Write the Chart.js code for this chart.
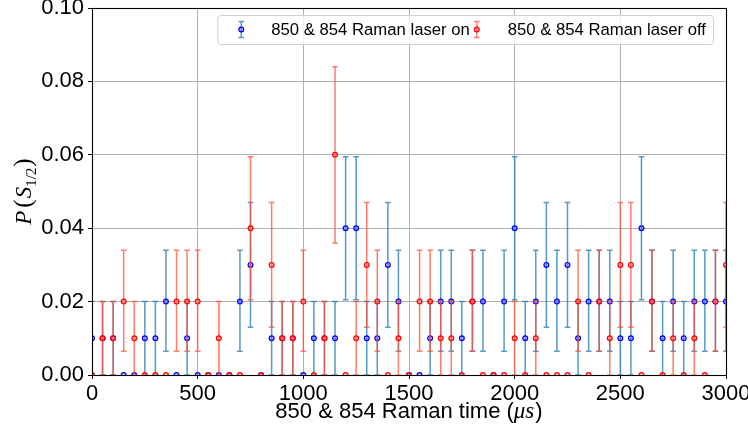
<!DOCTYPE html>
<html>
<head>
<meta charset="utf-8">
<title>Raman laser on / off</title>
<script src="https://cdn.jsdelivr.net/npm/chart.js@4.4.0/dist/chart.umd.min.js"></script>
<style>
    html, body { margin: 0; padding: 0; background: #fff; }
    #wrap { width: 748px; height: 437px; }
</style>
</head>
<body>
<div id="wrap"><canvas id="chart" width="748" height="437"></canvas></div>
<script>
// Raman time (us)
const times = [
    0, 50, 100, 150, 200, 250, 300, 350, 400, 450,
    500, 550, 600, 650, 700, 750, 800, 850, 900, 950,
    1000, 1050, 1100, 1150, 1200, 1250, 1300, 1350, 1400, 1450,
    1500, 1550, 1600, 1650, 1700, 1750, 1800, 1850, 1900, 1950,
    2000, 2050, 2100, 2150, 2200, 2250, 2300, 2350, 2400, 2450,
    2500, 2550, 2600, 2650, 2700, 2750, 2800, 2850, 2900, 2950,
    3000
];

// P(S1/2) with the 850 & 854 Raman laser on
const laserOn = [
    0.01, 0.01, 0.01, 0, 0, 0.01, 0.01, 0.02, 0, 0.01,
    0, 0, 0, 0, 0.02, 0.03, 0, 0.01, 0.01, 0.01,
    0, 0.01, 0.01, 0.01, 0.04, 0.04, 0.01, 0.01, 0.03, 0.02,
    0, 0, 0.01, 0.02, 0.02, 0.01, 0.02, 0.02, 0, 0.02,
    0.04, 0.01, 0.02, 0.03, 0.02, 0.03, 0.01, 0.02, 0.02, 0.02,
    0.01, 0.01, 0.04, 0.02, 0.01, 0.02, 0.01, 0.02, 0.02, 0.02,
    0.02
];

// P(S1/2) with the laser off
const laserOff = [
    0, 0.01, 0.01, 0.02, 0.01, 0, 0, 0, 0.02, 0.02,
    0.02, 0, 0.01, 0, 0, 0.04, 0, 0.03, 0.01, 0.01,
    0.02, 0, 0.01, 0.06, 0, 0.01, 0.03, 0.02, 0, 0.01,
    0, 0.02, 0.02, 0.01, 0.01, 0, 0.02, 0, 0, 0,
    0.01, 0, 0.01, 0, 0, 0, 0.02, 0, 0.02, 0.01,
    0.03, 0.03, 0, 0.02, 0, 0.01, 0, 0.01, 0, 0.02,
    0.03
];

const errLevels = [0, 0.01, 0.02, 0.03, 0.04, 0.06];
const errLow    = [0, 0, 0.0065, 0.013, 0.0205, 0.036];
const errHigh   = [0, 0.02, 0.034, 0.047, 0.0595, 0.084];

const legendLabels = ['850 & 854 Raman laser on', '850 & 854 Raman laser off'];

const SANS = '"Liberation Sans", Arial, sans-serif';
const SERIF = '"Liberation Serif", "DejaVu Serif", serif';

function errBounds(v) {
    const i = errLevels.indexOf(v);
    return i < 0 ? [v, v] : [errLow[i], errHigh[i]];
}

function toPoints(values) {
    return times.map((t, i) => ({ x: t, y: values[i] }));
}

// draw each dataset's error bars just before its markers
const errorBarPlugin = {
    id: 'errorBars',
    beforeDatasetDraw(chart, args) {
        const ds = chart.data.datasets[args.index];
        const xs = chart.scales.x;
        const ys = chart.scales.y;
        const area = chart.chartArea;
        const ctx = chart.ctx;
        ctx.save();
        ctx.beginPath();
        ctx.rect(area.left, area.top, area.right - area.left, area.bottom - area.top);
        ctx.clip();
        ctx.strokeStyle = ds.errorColor;
        ctx.lineWidth = 1.5;
        ds.data.forEach(p => {
            const [lo, hi] = errBounds(p.y);
            if (hi === lo) return;
            const px = xs.getPixelForValue(p.x);
            const yl = ys.getPixelForValue(lo);
            const yh = ys.getPixelForValue(hi);
            ctx.beginPath();
            ctx.moveTo(px, yl);
            ctx.lineTo(px, yh);
            ctx.moveTo(px - 2.8, yl);
            ctx.lineTo(px + 2.8, yl);
            ctx.moveTo(px - 2.8, yh);
            ctx.lineTo(px + 2.8, yh);
            ctx.stroke();
        });
        ctx.restore();
    }
};

// text made of pieces with their own fonts, centred on (cx, baseline)
function drawPieces(ctx, pieces, cx, baseline) {
    let total = 0;
    pieces.forEach(p => {
        ctx.font = p.font;
        p.w = ctx.measureText(p.text).width + (p.gap || 0);
        total += p.w;
    });
    let x = cx - total / 2;
    ctx.textAlign = 'left';
    ctx.textBaseline = 'alphabetic';
    pieces.forEach(p => {
        ctx.font = p.font;
        ctx.fillText(p.text, x, baseline + (p.dy || 0));
        x += p.w;
    });
}

function drawLegendIcon(ctx, x, yc, bar, edge, face) {
    ctx.strokeStyle = bar;
    ctx.lineWidth = 1.5;
    ctx.beginPath();
    ctx.moveTo(x, yc - 8);
    ctx.lineTo(x, yc + 8);
    ctx.moveTo(x - 2.8, yc - 8);
    ctx.lineTo(x + 2.8, yc - 8);
    ctx.moveTo(x - 2.8, yc + 8);
    ctx.lineTo(x + 2.8, yc + 8);
    ctx.stroke();
    ctx.beginPath();
    ctx.arc(x, yc, 2.4, 0, Math.PI * 2);
    ctx.fillStyle = face;
    ctx.fill();
    ctx.strokeStyle = edge;
    ctx.lineWidth = 1.2;
    ctx.stroke();
}

const decorPlugin = {
    id: 'decor',
    afterDatasetsDraw(chart) {
        const ctx = chart.ctx;
        const a = chart.chartArea;
        ctx.save();
        // axes box
        ctx.strokeStyle = '#000';
        ctx.lineWidth = 1.1;
        ctx.strokeRect(Math.round(a.left) + 0.5, Math.round(a.top) + 0.5,
            Math.round(a.right) - Math.round(a.left), Math.round(a.bottom) - Math.round(a.top));
        ctx.restore();
    },
    afterDraw(chart) {
        const ctx = chart.ctx;
        const a = chart.chartArea;
        const sets = chart.data.datasets;
        ctx.save();
        ctx.fillStyle = '#000';

        // x axis title
        drawPieces(ctx, [
            { text: '850 & 854 Raman time (', font: '22px ' + SANS },
            { text: 'μs', font: 'italic 23px ' + SERIF, gap: 1 },
            { text: ')', font: '22px ' + SANS }
        ], (a.left + a.right) / 2, 418);

        // y axis title
        ctx.save();
        ctx.translate(31, (a.top + a.bottom) / 2);
        ctx.rotate(-Math.PI / 2);
        drawPieces(ctx, [
            { text: 'P', font: 'italic 23px ' + SERIF, gap: 3 },
            { text: '(', font: '25px ' + SERIF, gap: 1 },
            { text: 'S', font: 'italic 23px ' + SERIF },
            { text: '1/2', font: '15px ' + SERIF, dy: 5, gap: 1 },
            { text: ')', font: '25px ' + SERIF }
        ], 0, 0);
        ctx.restore();

        // legend
        ctx.font = '16.7px ' + SANS;
        const w1 = ctx.measureText(legendLabels[0]).width;
        const w2 = ctx.measureText(legendLabels[1]).width;
        const boxW = 54 + w1 + 7 + 31 + w2 + 7;
        const boxR = a.right - 13;
        const boxL = boxR - boxW;
        const boxT = a.top + 7;
        const boxH = 29;
        ctx.beginPath();
        ctx.roundRect(boxL + 0.5, boxT + 0.5, boxW, boxH, 3);
        ctx.fillStyle = 'rgba(255,255,255,0.8)';
        ctx.fill();
        ctx.strokeStyle = '#d0d0d0';
        ctx.lineWidth = 1;
        ctx.stroke();
        const yc = boxT + boxH / 2;
        drawLegendIcon(ctx, boxL + 24, yc, sets[0].errorColor, sets[0].borderColor, sets[0].backgroundColor);
        const x2 = boxL + 54 + w1 + 7;
        drawLegendIcon(ctx, x2, yc, sets[1].errorColor, sets[1].borderColor, sets[1].backgroundColor);
        ctx.fillStyle = '#000';
        ctx.font = '16.7px ' + SANS;
        ctx.textAlign = 'left';
        ctx.textBaseline = 'middle';
        ctx.fillText(legendLabels[0], boxL + 54, yc + 1);
        ctx.fillText(legendLabels[1], x2 + 31, yc + 1);
        ctx.restore();
    }
};

function noPadding(scale) {
    scale.paddingTop = 0;
    scale.paddingBottom = 0;
    scale.paddingLeft = 0;
    scale.paddingRight = 0;
}

document.addEventListener('DOMContentLoaded', () => {
    const ctx = document.getElementById('chart').getContext('2d');
    new Chart(ctx, {
        type: 'scatter',
        data: {
            datasets: [
                {
                    label: legendLabels[0],
                    data: toPoints(laserOn),
                    borderColor: '#0000ff',
                    backgroundColor: 'rgba(110,110,255,0.45)',
                    errorColor: 'rgba(31,119,180,0.75)',
                    pointRadius: 2.4,
                    pointBorderWidth: 1.2,
                    pointHoverRadius: 2.4,
                    clip: 0,
                    order: 1
                },
                {
                    label: legendLabels[1],
                    data: toPoints(laserOff),
                    borderColor: '#ff0000',
                    backgroundColor: 'rgba(255,110,110,0.45)',
                    errorColor: 'rgba(255,75,50,0.72)',
                    pointRadius: 2.4,
                    pointBorderWidth: 1.2,
                    pointHoverRadius: 2.4,
                    clip: 0,
                    order: 0
                }
            ]
        },
        options: {
            responsive: false,
            animation: false,
            events: [],
            layout: { padding: { left: 0, right: 22, top: 8, bottom: 0 } },
            scales: {
                x: {
                    type: 'linear',
                    min: 0,
                    max: 3000,
                    grid: { color: '#b0b0b0', lineWidth: 1, tickLength: 4, tickColor: '#000' },
                    border: { display: true, color: '#000', width: 1 },
                    ticks: {
                        stepSize: 500,
                        padding: 2,
                        color: '#000',
                        maxRotation: 0,
                        font: { family: SANS, size: 22 },
                        callback: v => String(v)
                    },
                    afterFit: scale => { scale.height = 62; noPadding(scale); }
                },
                y: {
                    type: 'linear',
                    min: 0,
                    max: 0.1,
                    grid: { color: '#b0b0b0', lineWidth: 1, tickLength: 4, tickColor: '#000' },
                    border: { display: true, color: '#000', width: 1 },
                    ticks: {
                        stepSize: 0.02,
                        padding: 4,
                        color: '#000',
                        font: { family: SANS, size: 22 },
                        callback: v => v.toFixed(2)
                    },
                    afterFit: scale => { scale.width = 92; noPadding(scale); }
                }
            },
            plugins: {
                legend: { display: false },
                tooltip: { enabled: false }
            }
        },
        plugins: [errorBarPlugin, decorPlugin]
    });
});
</script>
</body>
</html>
